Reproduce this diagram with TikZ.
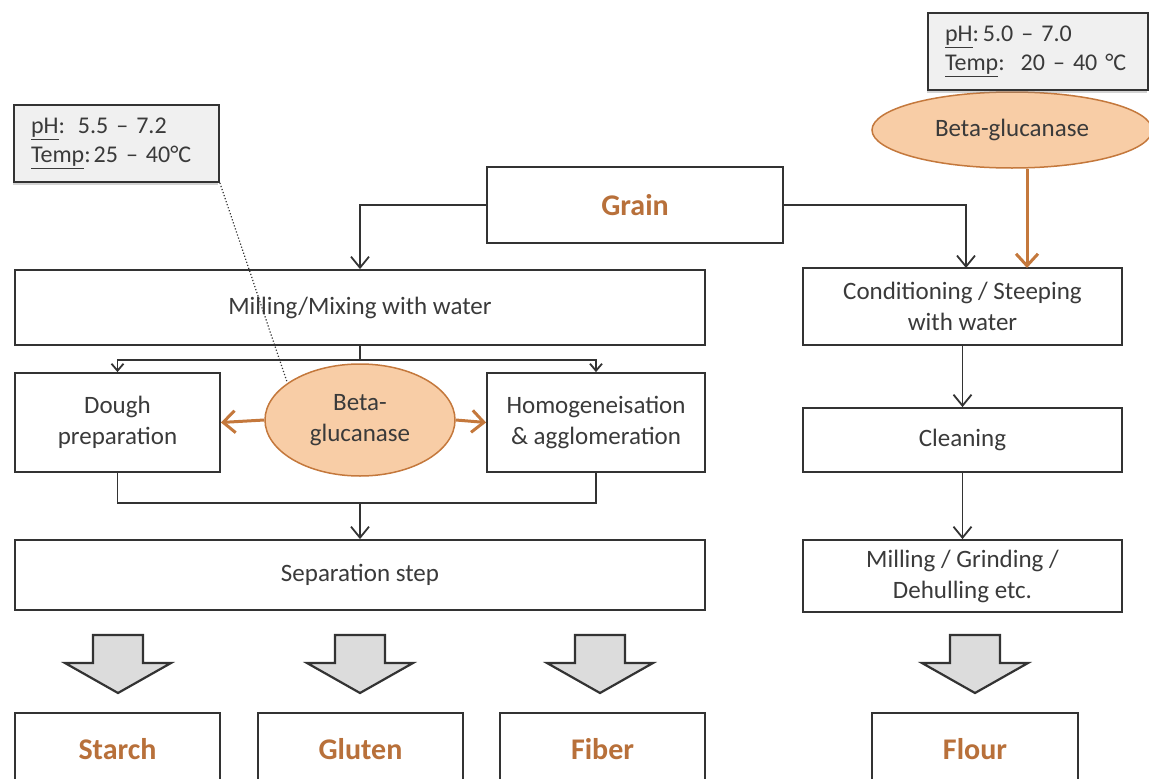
\documentclass[tikz,border=0pt]{standalone}
\usepackage{fontspec}
\setmainfont{Carlito}
\frenchspacing
\usetikzlibrary{arrows.meta,shapes.geometric,shadows}
\definecolor{txt}{HTML}{3A3A3A}
\definecolor{lin}{HTML}{333333}
\definecolor{brn}{HTML}{B8703A}
\definecolor{orng}{HTML}{C4783C}
\definecolor{efill}{HTML}{F8CDA6}
\definecolor{pfill}{HTML}{F0F0F0}
\definecolor{afill}{HTML}{DCDCDC}
\tikzset{
  base/.style={font=\fontsize{25}{31}\selectfont, text=txt},
  box/.style={base, draw=lin, line width=1.8pt, fill=white, align=center, inner sep=0pt},
  outbox/.style={box, font=\fontsize{30}{36}\selectfont\bfseries, text=brn},
  enz/.style={base, ellipse, draw=orng, line width=1.5pt, fill=efill, align=center, inner sep=0pt},
  parbox/.style={base, font=\fontsize{24}{29}\selectfont, draw=lin, line width=1.8pt, fill=pfill, align=left, inner sep=0pt,
     drop shadow={shadow xshift=-1.5pt, shadow yshift=-2.5pt, opacity=0.35}},
  conn/.style={draw=lin, line width=1.8pt, -{Straight Barb[length=11pt,width=18pt]}},
  smallconn/.style={draw=lin, line width=1.8pt, -{Straight Barb[length=7pt,width=12pt]}},
  plain/.style={draw=lin, line width=1.8pt},
  oarr/.style={draw=orng, line width=3pt, -{Straight Barb[length=12pt,width=22pt]}},
  blk/.style={draw=lin, line width=2.2pt, fill=afill, line join=miter},
  blockarr/.pic={\path[blk] (-25,0) -- (25,0) -- (25,28) -- (53,28) -- (0,58) -- (-53,28) -- (-25,28) -- cycle;}
}
\begin{document}
\begin{tikzpicture}[x=1pt,y=-1pt]
\useasboundingbox (0,0) rectangle (1149,779);
\begin{scope}
\clip (0,0) rectangle (1149,779);
% main boxes
\node[outbox, minimum width=296pt, minimum height=76pt] (grain) at (635,205) {Grain};
\node[box, minimum width=690pt, minimum height=75pt] (mill) at (360,307.5) {Milling/Mixing with water};
\node[box, minimum width=205pt, minimum height=99pt] (dough) at (117.5,422.5) {Dough\\preparation};
\node[box, minimum width=218pt, minimum height=99pt] (homog) at (596,422.5) {Homogeneisation\\\& agglomeration};
\node[box, minimum width=690pt, minimum height=70pt] (sep) at (360,575) {Separation step};
\node[box, minimum width=319pt, minimum height=77pt] (cond) at (962.5,306.5) {Conditioning / Steeping\\with water};
\node[box, minimum width=319pt, minimum height=64pt] (clean) at (962.5,440) {Cleaning};
\node[box, minimum width=319pt, minimum height=72pt] (grind) at (962.5,576) {Milling / Grinding /\\Dehulling etc.};
% outputs
\node[outbox, minimum width=205pt, minimum height=72pt] (starch) at (117.5,749) {Starch};
\node[outbox, minimum width=205pt, minimum height=72pt] (gluten) at (360.5,749) {Gluten};
\node[outbox, minimum width=205pt, minimum height=72pt] (fiber) at (602.5,749) {Fiber};
\node[outbox, minimum width=206pt, minimum height=72pt] (flour) at (975,749) {Flour};
% block arrows
\pic at (118,635) {blockarr};
\pic at (360,635) {blockarr};
\pic at (600,635) {blockarr};
\pic at (975,635) {blockarr};
% connectors
\coordinate (cin) at (966,268);
\draw[conn] (grain.west) -| (mill.north);
\draw[conn] (grain.east) -| (cin);
\coordinate (split) at (360,360);
\draw[plain] (mill.south) -- (split);
\draw[smallconn] (split) -| (dough.north);
\draw[smallconn] (split) -| (homog.north);
\coordinate (merge) at (360,503);
\draw[plain] (dough.south) |- (merge) -| (homog.south);
\draw[conn] (merge) -- (sep.north);
\draw[conn] (cond.south) -- (clean.north);
\draw[conn] (clean.south) -- (grind.north);
% enzyme (left)
\node[enz, minimum width=190pt, minimum height=112pt] (enz1) at (360,420) {Beta-\\glucanase};
\draw[oarr] (enz1.west) -- (dough.east);
\draw[oarr] (enz1.east) -- (homog.west);
\node[parbox, minimum width=205pt, minimum height=77pt, text width=171pt] (par1) at (116.5,143.5)
  {\underline{pH}:\hspace{13pt}5.5 – 7.2\\\underline{Temp}:\hspace{3pt}25 – 40°C};
\draw[draw=lin, line width=1.2pt, dotted] (par1.south east) -- (enz1.153);
% enzyme (right)
\coordinate (oa) at (1027,268);
\node[enz, minimum width=280pt, minimum height=76pt] (enz2) at (1012,130) {Beta-glucanase};
\draw[oarr] (enz2.south -| oa) -- (oa);
\node[parbox, minimum width=220pt, minimum height=77pt, text width=186pt] (par2) at (1038,51.5)
  {\underline{pH}:\hspace{4pt}5.0 – 7.0\\\underline{Temp}:\hspace{16pt}20 – 40 °C};
\end{scope}
\end{tikzpicture}
\end{document}
